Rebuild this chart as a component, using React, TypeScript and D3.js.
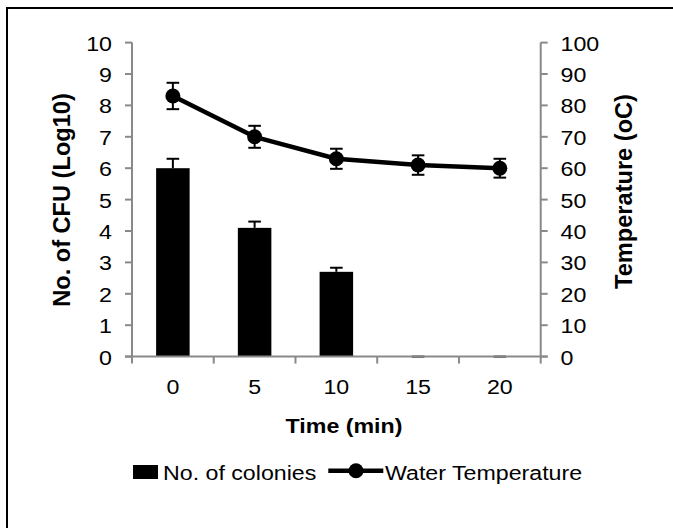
import React from "react";
import * as d3 from "d3";

const categories = ["0", "5", "10", "15", "20"];
const colonies = [6.0, 4.1, 2.7, 0, 0];
const coloniesErr = [0.3, 0.2, 0.13, 0, 0];
const temperature = [83, 70, 63, 61, 60];
const temperatureErr = [4.2, 3.5, 3.2, 3.1, 3.0];
const leftTicks = [0, 1, 2, 3, 4, 5, 6, 7, 8, 9, 10];
const rightTicks = [0, 10, 20, 30, 40, 50, 60, 70, 80, 90, 100];

const W = 673;
const H = 528;
const FONT = "'Liberation Sans', Arial, sans-serif";
const SX = 1.16;
const FS = 20;
const AXIS = "#898989";

const plotLeft = 132;
const plotRight = 540.7;
const plotTop = 42.6;
const plotBottom = 356.6;

const x = d3.scaleBand<string>().domain(categories).range([plotLeft, plotRight]).paddingInner(0).paddingOuter(0);
const yL = d3.scaleLinear().domain([0, 10]).range([plotBottom, plotTop]);
const yR = d3.scaleLinear().domain([0, 100]).range([plotBottom, plotTop]);

function HText(props: { x: number; y: number; anchor?: string; size?: number; weight?: string; children: React.ReactNode }) {
  const { x: tx, y: ty, anchor = "start", size = FS, weight = "normal", children } = props;
  return (
    <text
      transform={`translate(${tx},${ty}) scale(${SX},1)`}
      textAnchor={anchor}
      fontSize={size}
      fontWeight={weight}
      fontFamily={FONT}
      fill="#000"
    >
      {children}
    </text>
  );
}

export default function App() {
  const bw = x.bandwidth();
  const barW = bw * 0.41;
  const cap = 6.3;
  const line = d3
    .line<number>()
    .x((_, i) => (x(categories[i]) as number) + bw / 2)
    .y((d) => yR(d));

  return (
    <svg width={W} height={H} style={{ position: "absolute", left: 0, top: 0, background: "#fff" }}>
      <rect x={0} y={0} width={W} height={H} fill="#fff" />
      <rect x={7} y={8} width={W + 20} height={H + 20} fill="none" stroke="#000" strokeWidth={2} />

      {/* bars */}
      {colonies.map((v, i) => {
        const cx = (x(categories[i]) as number) + bw / 2;
        return (
          <g key={"b" + i}>
            {v > 0 && <rect x={cx - barW / 2} y={yL(v)} width={barW} height={yL(0) - yL(v)} fill="#000" />}
            <line x1={cx} x2={cx} y1={yL(v)} y2={yL(v + coloniesErr[i])} stroke="#000" strokeWidth={2} />
            <line x1={cx - cap} x2={cx + cap} y1={yL(v + coloniesErr[i])} y2={yL(v + coloniesErr[i])} stroke="#000" strokeWidth={2} />
          </g>
        );
      })}

      {/* axes */}
      <line x1={plotLeft} x2={plotLeft} y1={plotTop} y2={plotBottom} stroke={AXIS} strokeWidth={2} />
      <line x1={plotRight} x2={plotRight} y1={plotTop} y2={plotBottom} stroke={AXIS} strokeWidth={2} />
      <line x1={plotLeft - 7} x2={plotRight + 7} y1={plotBottom} y2={plotBottom} stroke={AXIS} strokeWidth={2} />
      {leftTicks.map((t) => (
        <g key={"l" + t}>
          <line x1={plotLeft - 7} x2={plotLeft} y1={yL(t)} y2={yL(t)} stroke={AXIS} strokeWidth={2} />
          <HText x={112} y={yL(t) + 8} anchor="end">{t}</HText>
        </g>
      ))}
      {rightTicks.map((t) => (
        <g key={"r" + t}>
          <line x1={plotRight} x2={plotRight + 7} y1={yR(t)} y2={yR(t)} stroke={AXIS} strokeWidth={2} />
          <HText x={560.5} y={yR(t) + 8} anchor="start">{t}</HText>
        </g>
      ))}
      {d3.range(categories.length + 1).map((i) => {
        const tx = plotLeft + i * bw;
        return <line key={"xt" + i} x1={tx} x2={tx} y1={plotBottom} y2={plotBottom + 7} stroke={AXIS} strokeWidth={2} />;
      })}
      {categories.map((c) => (
        <HText key={"xl" + c} x={(x(c) as number) + bw / 2} y={394.3} anchor="middle">{c}</HText>
      ))}

      {/* temperature line */}
      {temperature.map((v, i) => {
        const cx = (x(categories[i]) as number) + bw / 2;
        const e = temperatureErr[i];
        return (
          <g key={"e" + i}>
            <line x1={cx} x2={cx} y1={yR(v - e)} y2={yR(v + e)} stroke="#000" strokeWidth={2} />
            <line x1={cx - cap} x2={cx + cap} y1={yR(v + e)} y2={yR(v + e)} stroke="#000" strokeWidth={2} />
            <line x1={cx - cap} x2={cx + cap} y1={yR(v - e)} y2={yR(v - e)} stroke="#000" strokeWidth={2} />
          </g>
        );
      })}
      <path d={line(temperature) || ""} fill="none" stroke="#000" strokeWidth={4.5} strokeLinejoin="round" />
      {temperature.map((v, i) => (
        <circle key={"c" + i} cx={(x(categories[i]) as number) + bw / 2} cy={yR(v)} r={7.5} fill="#000" />
      ))}

      {/* axis titles */}
      <HText x={344} y={432.7} anchor="middle" weight="bold">Time (min)</HText>
      <text transform={`translate(70,200) rotate(-90)`} textAnchor="middle" fontSize={23.6} fontWeight="bold" fontFamily={FONT}>
        No. of CFU (Log10)
      </text>
      <text transform={`translate(632,191.5) rotate(-90)`} textAnchor="middle" fontSize={23.6} fontWeight="bold" fontFamily={FONT}>
        Temperature (oC)
      </text>

      {/* legend */}
      <rect x={133} y={465} width={25} height={14} fill="#000" />
      <HText x={163} y={480} anchor="start">No. of colonies</HText>
      <line x1={328.3} x2={383.3} y1={470.7} y2={470.7} stroke="#000" strokeWidth={4.5} />
      <circle cx={356} cy={470.7} r={7.5} fill="#000" />
      <HText x={385} y={480} anchor="start">Water Temperature</HText>
    </svg>
  );
}
